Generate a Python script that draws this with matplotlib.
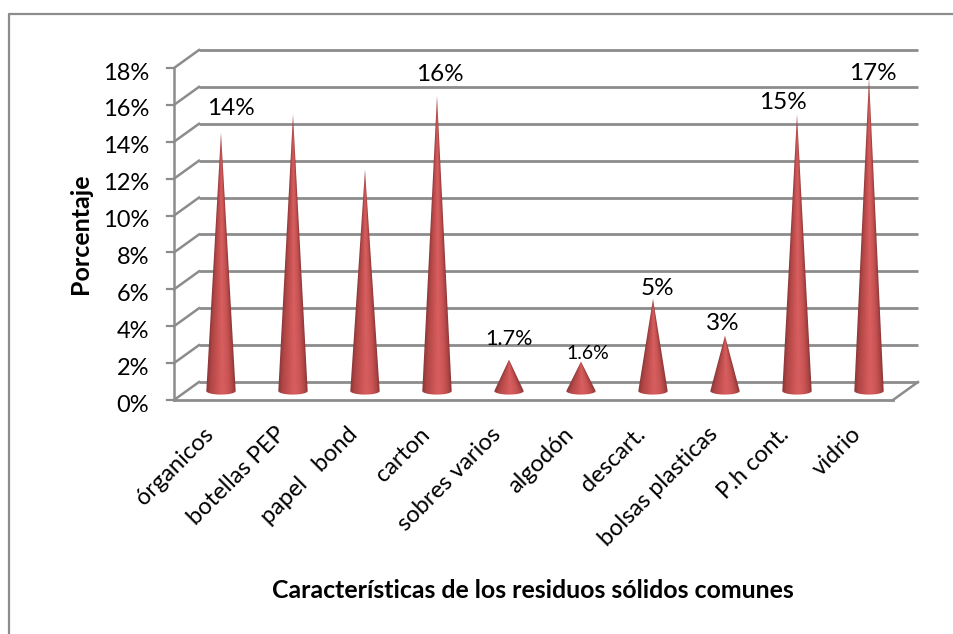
import numpy as np
import matplotlib
matplotlib.use('Agg')
import matplotlib.pyplot as plt
from matplotlib.colors import LinearSegmentedColormap
from matplotlib.path import Path
from matplotlib.patches import PathPatch
from matplotlib.lines import Line2D
from matplotlib.transforms import ScaledTranslation

plt.rcParams['font.family'] = ['Lato', 'DejaVu Sans']

categorias = ['órganicos', 'botellas PEP', 'papel   bond', 'carton', 'sobres varios',
              'algodón', 'descart.', 'bolsas plasticas', 'P.h cont.', 'vidrio']
porcentajes = [14, 15, 12, 16, 1.7, 1.6, 5, 3, 15, 17]
etiquetas = ['14%', '', '', '16%', '1.7%', '1.6%', '5%', '3%', '15%', '17%']
ticks_y = [0, 2, 4, 6, 8, 10, 12, 14, 16, 18]

# where each value label sits relative to the cone tip, px, and its font size
desp_etiqueta = [(10, 24), (0, 0), (0, 0), (3, 21), (0, 21), (7, 8), (4, 10), (-2, 12), (-14, 12), (4, 4)]
tam_etiqueta = [17.5, 17.5, 17.5, 17.5, 15.5, 14, 17.5, 17.5, 17.5, 17.5]

W, H = 954, 634
DX, DY = 12.5, 9.0   # half of the oblique depth, px
GRIS = '#8c8c8c'

fig = plt.figure(figsize=(W / 100, H / 100), dpi=100)
fig.patch.set_facecolor('white')

# frame: only the top and left edges fall inside the figure
fig.add_artist(Line2D([9.5 / W, 9.5 / W, 1], [0, 1 - 13.5 / H, 1 - 13.5 / H], transform=fig.transFigure,
                      color=GRIS, lw=1.6))

# axes sits on the mid plane of the 3d box, the cones stand there
x0, x1 = 186.5, 905.5
y_base, y_top = 391.0, 59.0
ax = fig.add_axes([x0 / W, 1 - y_base / H, (x1 - x0) / W, (y_base - y_top) / H])
ax.set_xlim(-0.479, 9.507)
ax.set_ylim(0, 18)
ax.axis('off')


def desplazado(k):
    # k=-1 front edge of the box, k=1 back wall
    return ax.transData + ScaledTranslation(k * DX / 100, k * DY / 100, fig.dpi_scale_trans)


front = desplazado(-1)
back = desplazado(1)
xl, xr = ax.get_xlim()

for v in ticks_y:
    # gridline on the back wall and its slanted side
    ax.plot([xl, xr], [v, v], transform=back, color=GRIS, lw=2, clip_on=False, zorder=1, solid_capstyle='butt')
    px_f = front.transform((xl, v))
    px_b = back.transform((xl, v))
    ax.plot([px_f[0], px_b[0]], [px_f[1], px_b[1]], transform=None, color=GRIS, lw=1.8, clip_on=False, zorder=1)
    # tick mark on the front axis
    ax.plot([px_f[0] - 7, px_f[0]], [px_f[1], px_f[1]], transform=None, color=GRIS, lw=1.6, clip_on=False, zorder=1)
    ax.text(px_f[0] - 25, px_f[1] - 5, f'{v}%', transform=None, ha='right', va='center',
            fontsize=17, color='black')

# front axis line, floor edge and right side of the floor
ax.plot([xl, xl], [0, 18], transform=front, color=GRIS, lw=1.8, clip_on=False, zorder=1)
ax.plot([xl, xr], [0, 0], transform=front, color=GRIS, lw=2, clip_on=False, zorder=1)
p_f = front.transform((xr, 0))
p_b = back.transform((xr, 0))
ax.plot([p_f[0], p_b[0]], [p_f[1], p_b[1]], transform=None, color=GRIS, lw=1.8, clip_on=False, zorder=1)

cmap = LinearSegmentedColormap.from_list('cono', [(0, '#8a3636'), (0.14, '#b04646'), (0.35, '#c85252'),
                                                  (0.55, '#d85f5f'), (0.78, '#c85252'), (0.92, '#a84343'),
                                                  (1, '#863434')])
semi_ancho = 0.204
semi_menor = 3.6 / 18.44
for i, v in enumerate(porcentajes):
    # outline: apex down to the base, then round the lower half of the base ellipse
    t = np.linspace(np.pi, 2 * np.pi, 40)
    xs = np.r_[i, i + semi_ancho * np.cos(t), i]
    ys = np.r_[v, semi_menor * np.sin(t), v]
    contorno = Path(np.c_[xs, ys])
    parche = PathPatch(contorno, transform=ax.transData, fc='none', ec='none', clip_on=False)
    ax.add_patch(parche)

    # shading follows the cone: same colour along every generator line
    gx = np.linspace(i - semi_ancho, i + semi_ancho, 120)
    gy = np.linspace(-semi_menor, v, 400)
    X, Y = np.meshgrid(gx, gy)
    r = np.clip(1 - Y / v, 1e-3, None) * semi_ancho
    U = np.clip((X - i) / r, -1, 1)
    im = ax.imshow((U + 1) / 2, extent=[gx[0], gx[-1], gy[0], gy[-1]], origin='lower', cmap=cmap,
                   vmin=0, vmax=1, aspect='auto', zorder=3, interpolation='bilinear')
    # the base ellipse hangs below y=0, so clip to the figure rather than the axes
    im.set_clip_box(fig.bbox)
    im.set_clip_path(parche)
    ax.set_xlim(xl, xr)
    ax.set_ylim(0, 18)

    if etiquetas[i]:
        ax.annotate(etiquetas[i], (i, v), xytext=desp_etiqueta[i], textcoords='offset pixels',
                    ha='center', va='center', zorder=4, fontsize=tam_etiqueta[i])

    # category label rotated 45 degrees, anchored at its right end
    ax.annotate(categorias[i], (i, 0), xytext=(-11, -40), textcoords='offset pixels', rotation=45,
                rotation_mode='anchor', ha='right', va='center', fontsize=17)

fig.text(80 / W, 1 - 234 / H, 'Porcentaje', rotation=90, ha='center', va='center', fontsize=18, fontweight='bold')
fig.text(533 / W, 1 - 590 / H, 'Características de los residuos sólidos comunes', ha='center', va='center',
         fontsize=17.9, fontweight='bold')

fig.savefig('out.png', dpi=100)
